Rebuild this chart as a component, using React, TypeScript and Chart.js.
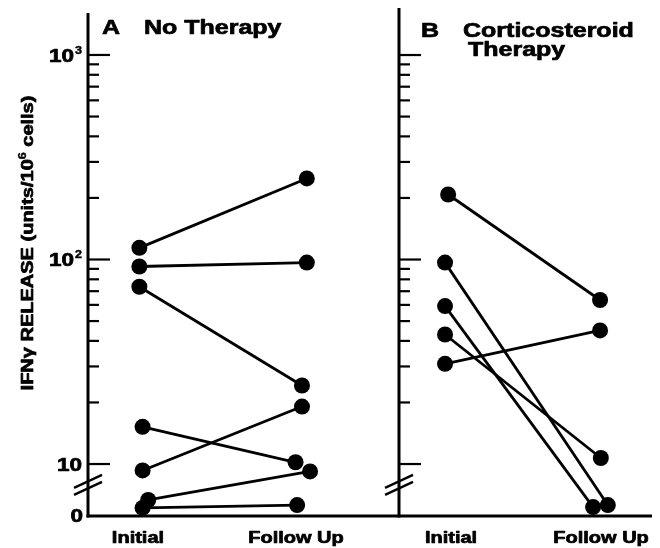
import React, { useEffect, useRef } from 'react';
import { Chart, registerables } from 'chart.js';

Chart.register(...registerables);

// ---------- data ----------
const TIMEPOINTS = ['Initial', 'Follow Up'];

// Panel A: No Therapy (values in units/10^6 cells; points in the broken "0" band sit below 10)
const A_INITIAL = [114, 92.4, 73.6, 15.2, 9.3, 6.67, 6.1];
const A_FOLLOW_UP = [249, 96.6, 24.2, 10.2, 19.1, 9.2, 6.3];
const A_INITIAL_JITTER = [-0.01, -0.01, -0.01, 0.01, 0.01, 0.045, 0.01];
const A_FOLLOW_UP_JITTER = [0.03, 0.03, 0, -0.04, 0, 0.05, -0.03];

// Panel B: Corticosteroid Therapy
const B_INITIAL = [208, 96.6, 59.2, 43.0, 30.9];
const B_FOLLOW_UP = [63.4, 6.3, 6.16, 10.7, 45.0];
const B_INITIAL_JITTER = [0.02, 0, 0, 0, 0];
const B_FOLLOW_UP_JITTER = [0, 0.05, -0.045, 0.005, 0];

const Y_MAJOR_TICKS = [1000, 100, 10];
const Y_TICK_BASE = ['10', '10', '10'];
const Y_TICK_EXP = ['3', '2', ''];
const Y_MINOR_MULTIPLES = [2, 3, 4, 5, 6, 7, 8, 9];
const Y_MINOR_DECADES = [10, 100];
const ZERO_LABEL = '0';
const Y_MIN = 5.57; // bottom of the broken "0" band
const BREAK_VALUE = 7.9;
const Y_TITLE_PARTS = ['IFN\u03B3 RELEASE (units/10', '6', ' cells)'];
const PANEL_A_TITLE = ['A', 'No Therapy'];
const PANEL_B_TITLE = ['B', 'Corticosteroid', 'Therapy'];

// ---------- drawing helpers ----------
const FONT = '"Liberation Sans", Arial, Helvetica, sans-serif';
const SX = 1.25;

function txt(ctx: CanvasRenderingContext2D, s: string, x: number, y: number, size: number, align: 'left' | 'right' | 'center', sx = SX) {
  ctx.save();
  ctx.font = `bold ${size}px ${FONT}`;
  const w = ctx.measureText(s).width * sx;
  let x0 = x;
  if (align === 'right') x0 = x - w;
  else if (align === 'center') x0 = x - w / 2;
  ctx.translate(x0, y);
  ctx.scale(sx, 1);
  ctx.textAlign = 'left';
  ctx.textBaseline = 'alphabetic';
  ctx.fillStyle = '#000';
  ctx.strokeStyle = '#000';
  ctx.lineWidth = size > 12 ? 0.7 : 0.4;
  ctx.lineJoin = 'round';
  ctx.fillText(s, 0, 0);
  ctx.strokeText(s, 0, 0);
  ctx.restore();
  return w;
}

function measure(ctx: CanvasRenderingContext2D, s: string, size: number, sx = SX) {
  ctx.save();
  ctx.font = `bold ${size}px ${FONT}`;
  const w = ctx.measureText(s).width * sx;
  ctx.restore();
  return w;
}

type PanelCfg = {
  key: string;
  init: number[];
  follow: number[];
  ji: number[];
  jf: number[];
  title: string[];
  letterX: number;
  titleX: number[];
  titleY: number[];
  showYLabels: boolean;
  lineFromEdge: boolean;
  padding: { left: number; right: number; top: number; bottom: number };
  xMin: number;
  xMax: number;
  yMax: number;
  labelShift: number[];
  left: number;
  width: number;
};

function makePlugin(cfg: PanelCfg) {
  return {
    id: 'panelDecor' + cfg.key,
    beforeDatasetsDraw(chart: any) {
      const { ctx, chartArea, scales } = chart;
      const y = scales.y;
      const ax = chartArea.left;
      ctx.save();
      ctx.strokeStyle = '#000';
      ctx.lineCap = 'butt';
      // y axis line
      ctx.lineWidth = 3;
      ctx.beginPath();
      ctx.moveTo(ax, chartArea.top);
      ctx.lineTo(ax, chartArea.bottom + 1.5);
      ctx.stroke();
      // baseline
      ctx.beginPath();
      ctx.moveTo(cfg.lineFromEdge ? 0 : ax - 1.5, chartArea.bottom);
      ctx.lineTo(chartArea.right, chartArea.bottom);
      ctx.stroke();
      // ticks
      ctx.lineWidth = 2.2;
      Y_MAJOR_TICKS.forEach((v) => {
        const ty = y.getPixelForValue(v);
        ctx.beginPath();
        ctx.moveTo(ax, ty);
        ctx.lineTo(ax + 22, ty);
        ctx.stroke();
      });
      Y_MINOR_DECADES.forEach((d) => {
        Y_MINOR_MULTIPLES.forEach((m) => {
          const ty = y.getPixelForValue(d * m);
          ctx.beginPath();
          ctx.moveTo(ax, ty);
          ctx.lineTo(ax + 11, ty);
          ctx.stroke();
        });
      });
      // axis break marks
      const by = y.getPixelForValue(BREAK_VALUE);
      ctx.lineWidth = 2.4;
      [-3.5, 3.5].forEach((d) => {
        ctx.beginPath();
        ctx.moveTo(ax - 14, by + d + 6.5);
        ctx.lineTo(ax + 14, by + d - 6.5);
        ctx.stroke();
      });
      ctx.restore();
    },
    afterDraw(chart: any) {
      const { ctx, chartArea, scales } = chart;
      const y = scales.y;
      const x = scales.x;
      const ax = chartArea.left;
      // panel title
      txt(ctx, cfg.title[0], cfg.letterX, cfg.titleY[0], 20, 'left');
      for (let i = 1; i < cfg.title.length; i++) {
        txt(ctx, cfg.title[i], cfg.titleX[i - 1], cfg.titleY[i - 1], 20, 'left');
      }
      // x labels
      TIMEPOINTS.forEach((lab, i) => {
        txt(ctx, lab, x.getPixelForValue(i) + cfg.labelShift[i], chartArea.bottom + 27, 16, 'center');
      });
      if (cfg.showYLabels) {
        Y_MAJOR_TICKS.forEach((v, i) => {
          const ty = y.getPixelForValue(v);
          if (Y_TICK_EXP[i]) {
            txt(ctx, Y_TICK_EXP[i], ax - 13, ty - 1, 10, 'left');
            txt(ctx, Y_TICK_BASE[i], ax - 14, ty + 7, 18, 'right');
          } else {
            txt(ctx, Y_TICK_BASE[i], ax - 6, ty + 7, 18, 'right');
          }
        });
        txt(ctx, ZERO_LABEL, ax - 5, chartArea.bottom + 6, 18, 'right');
        // rotated axis title
        const sizes = [16, 10, 16];
        const widths = Y_TITLE_PARTS.map((p, i) => measure(ctx, p, sizes[i]));
        const total = widths.reduce((a, b) => a + b, 0);
        ctx.save();
        ctx.translate(27, 243);
        ctx.rotate(-Math.PI / 2);
        let cx = -total / 2;
        Y_TITLE_PARTS.forEach((p, i) => {
          const base = i === 1 ? -1 : 5.8;
          txt(ctx, p, cx, base, sizes[i], 'left');
          cx += widths[i];
        });
        ctx.restore();
      }
    },
  };
}

function buildDatasets(init: number[], follow: number[], ji: number[], jf: number[]) {
  return init.map((v, i) => ({
    label: 'P' + (i + 1),
    data: [
      { x: 0 + ji[i], y: v },
      { x: 1 + jf[i], y: follow[i] },
    ],
    borderColor: '#000',
    borderWidth: 2.8,
    pointRadius: 8,
    pointHoverRadius: 8,
    pointBackgroundColor: '#000',
    pointBorderColor: '#000',
    pointBorderWidth: 0,
    tension: 0,
    fill: false,
    clip: false as any,
  }));
}

const PANEL_A: PanelCfg = {
  key: 'A',
  init: A_INITIAL,
  follow: A_FOLLOW_UP,
  ji: A_INITIAL_JITTER,
  jf: A_FOLLOW_UP_JITTER,
  title: PANEL_A_TITLE,
  letterX: 102,
  titleX: [144],
  titleY: [34],
  showYLabels: true,
  lineFromEdge: false,
  padding: { left: 88, right: 40, top: 13, bottom: 32 },
  xMin: -0.329,
  xMax: 1.174,
  yMax: 1604,
  labelShift: [-3, -6],
  left: 0,
  width: 370,
};

const PANEL_B: PanelCfg = {
  key: 'B',
  init: B_INITIAL,
  follow: B_FOLLOW_UP,
  ji: B_INITIAL_JITTER,
  jf: B_FOLLOW_UP_JITTER,
  title: PANEL_B_TITLE,
  letterX: 91,
  titleX: [133, 138],
  titleY: [37, 56],
  showYLabels: false,
  lineFromEdge: true,
  padding: { left: 69, right: 3, top: 8, bottom: 32 },
  xMin: -0.297,
  xMax: 1.335,
  yMax: 1698,
  labelShift: [6, 1],
  left: 330,
  width: 330,
};

function Panel({ cfg }: { cfg: PanelCfg }) {
  const ref = useRef<HTMLCanvasElement | null>(null);
  useEffect(() => {
    if (!ref.current) return;
    const chart = new Chart(ref.current, {
      type: 'line',
      data: { datasets: buildDatasets(cfg.init, cfg.follow, cfg.ji, cfg.jf) as any },
      options: {
        animation: false,
        responsive: false,
        devicePixelRatio: 1,
        layout: { padding: cfg.padding },
        plugins: { legend: { display: false }, tooltip: { enabled: false }, title: { display: false } },
        events: [],
        scales: {
          x: { type: 'linear', min: cfg.xMin, max: cfg.xMax, display: false },
          y: { type: 'logarithmic', min: Y_MIN, max: cfg.yMax, display: false },
        },
      },
      plugins: [makePlugin(cfg)],
    });
    return () => chart.destroy();
  }, []);
  return (
    <canvas
      ref={ref}
      width={cfg.width}
      height={548}
      style={{ position: 'absolute', left: cfg.left, top: 0, display: 'block', width: cfg.width, height: 548 }}
    />
  );
}

export default function App() {
  return (
    <div style={{ position: 'absolute', left: 0, top: 0, width: 660, height: 548, background: '#fff', overflow: 'hidden' }}>
      <Panel cfg={PANEL_A} />
      <Panel cfg={PANEL_B} />
    </div>
  );
}
